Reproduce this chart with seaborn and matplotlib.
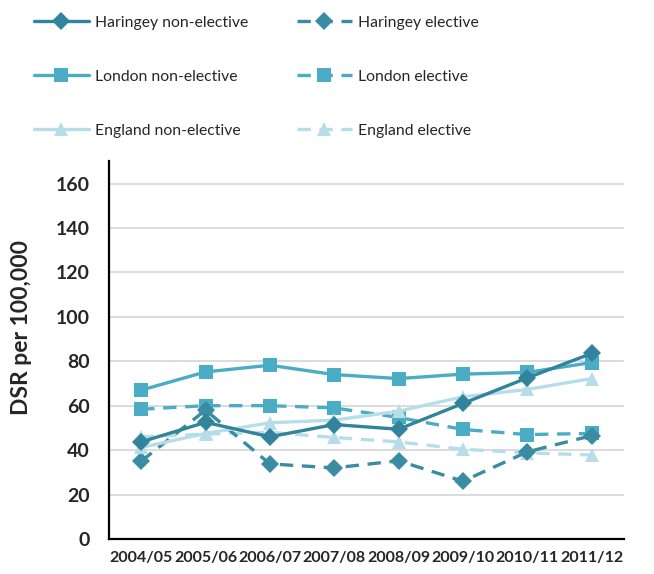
import matplotlib
matplotlib.use("Agg")
import matplotlib.pyplot as plt
import seaborn as sns
import pandas as pd
import numpy as np

years = ["2004/05", "2005/06", "2006/07", "2007/08", "2008/09", "2009/10", "2010/11", "2011/12"]
haringey_non = [43.7, 52.5, 46.0, 51.5, 49.4, 61.0, 72.5, 83.5]
haringey_el = [35.0, 58.0, 33.8, 32.0, 35.2, 26.0, 39.2, 46.5]
london_non = [67.0, 75.2, 78.2, 74.0, 72.2, 74.2, 75.0, 79.4]
london_el = [58.4, 60.0, 60.0, 59.0, 54.7, 49.3, 47.0, 47.5]
england_non = [41.2, 47.5, 52.3, 53.5, 57.5, 64.0, 67.3, 72.2]
england_el = [46.0, 47.2, 48.0, 45.7, 43.7, 40.4, 38.8, 37.8]

series = [
    ("Haringey non-elective", haringey_non, "#31849B", "D", False),
    ("London non-elective", london_non, "#4BACC6", "s", False),
    ("England non-elective", england_non, "#B7DEE8", "^", False),
    ("Haringey elective", haringey_el, "#3A8CA3", "D", True),
    ("London elective", london_el, "#4BACC6", "s", True),
    ("England elective", england_el, "#B7DEE8", "^", True),
]
msizes = {"D": 9, "s": 10.5, "^": 10}

sns.set_style("white")
plt.rcParams["font.family"] = ["Lato", "DejaVu Sans"]

fig = plt.figure(figsize=(6.54, 5.74), dpi=100)
ax = fig.add_axes([0.1667, 0.061, 0.787, 0.658])

draw_order = [5, 4, 3, 2, 1, 0]
handles = {}
for i in draw_order:
    name, vals, col, mk, dashed = series[i]
    df = pd.DataFrame({"year": years, "value": vals})
    sns.lineplot(data=df, x="year", y="value", ax=ax, color=col, marker=mk,
                 markersize=msizes[mk], markeredgewidth=0,
                 linewidth=2.4, sort=False, label=name, dashes=False)
    line = ax.get_lines()[-1]
    if dashed:
        line.set_dashes([4, 2.6])
    line.set_markerfacecolor(col)
    handles[name] = line

ax.set_xlim(-0.5, 7.5)
ax.set_ylim(0, 170)
ax.set_yticks(np.arange(0, 161, 20))
ax.set_xticks(np.arange(len(years)))
ax.set_xticklabels(years)
ax.set_xticks(np.arange(-0.5, 7.6, 1), minor=True)
ax.tick_params(axis="x", which="major", length=0, pad=9)
ax.tick_params(axis="x", which="minor", length=5, width=1.3, color="black", direction="out")
ax.tick_params(axis="y", length=6, width=1.3, color="black", direction="out", pad=8)
for lbl in ax.get_xticklabels():
    lbl.set_fontweight("bold")
    lbl.set_fontsize(11.5)
for lbl in ax.get_yticklabels():
    lbl.set_fontweight("bold")
    lbl.set_fontsize(14)
ax.yaxis.grid(True, color="#D9D9D9", linewidth=1.3)
ax.set_axisbelow(True)
for s in ["top", "right"]:
    ax.spines[s].set_visible(False)
for s in ["left", "bottom"]:
    ax.spines[s].set_color("black")
    ax.spines[s].set_linewidth(1.6)
ax.set_xlabel("")
ax.set_ylabel("DSR per 100,000", fontsize=16.5, fontweight="bold")
ax.yaxis.set_label_coords(-0.15, 0.561)
ax.get_legend().remove()

order = [s[0] for s in series]
fig.legend([handles[n] for n in order], order, ncol=2, loc="upper left",
           bbox_to_anchor=(0.035, 0.992), frameon=False, fontsize=11.3,
           handlelength=3.5, labelspacing=2.55, columnspacing=3.1,
           handletextpad=0.4, borderaxespad=0.3)

fig.savefig("out.png", dpi=100)
